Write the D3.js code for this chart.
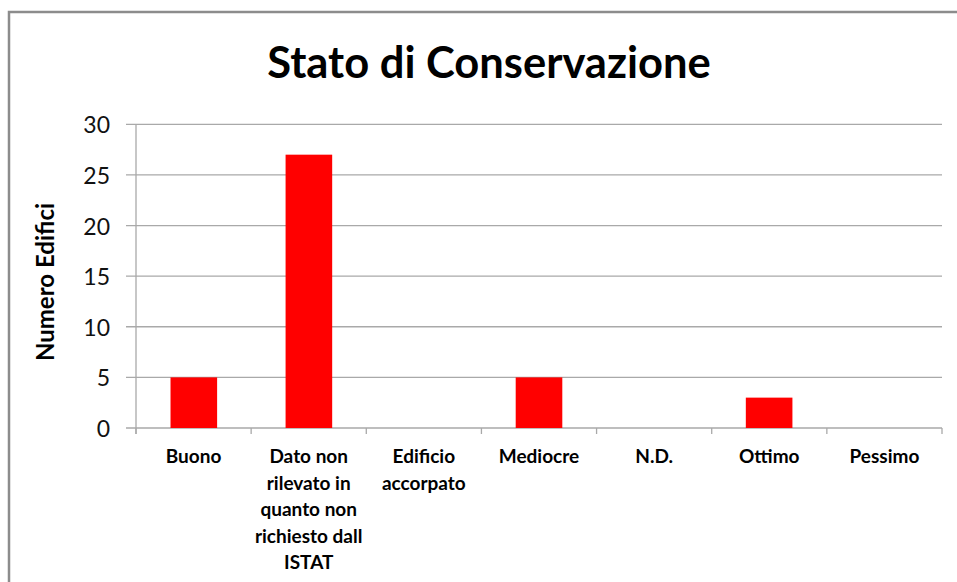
<!DOCTYPE html>
<html><head><meta charset="utf-8">
<script src="https://cdn.jsdelivr.net/npm/d3@7/dist/d3.min.js"></script>
<style>
html,body{margin:0;padding:0;background:#fff;}
svg{display:block;}
text{font-family:Lato,"Open Sans","Liberation Sans",sans-serif;}
</style></head>
<body>
<svg id="c" width="957" height="582"></svg>
<script>
const categories = ["Buono", "Dato non rilevato in quanto non richiesto dall ISTAT", "Edificio accorpato", "Mediocre", "N.D.", "Ottimo", "Pessimo"];
const categoryLines = [["Buono"], ["Dato non","rilevato in","quanto non","richiesto dall","ISTAT"], ["Edificio","accorpato"], ["Mediocre"], ["N.D."], ["Ottimo"], ["Pessimo"]];
const values = [5, 27, 0, 5, 0, 3, 0];
const yTicks = [0, 5, 10, 15, 20, 25, 30];
const title = "Stato di Conservazione";
const yTitle = "Numero Edifici";

const svg = d3.select("#c");
// outer border
svg.append("path").attr("d","M9,582 V12 H957").attr("fill","none").attr("stroke","#8c8c8c").attr("stroke-width",2.5);

const L = 136, R = 942, T = 124.3, B = 428;
const x = d3.scaleBand().domain(categories).range([L, R]).paddingInner(0.595).paddingOuter(0.3);
const y = d3.scaleLinear().domain([0, 30]).range([B, T]);

// gridlines
svg.append("g").selectAll("line").data(yTicks).join("line")
  .attr("x1", L - 10).attr("x2", R).attr("y1", d => y(d)).attr("y2", d => y(d))
  .attr("stroke", "#a9a9a9").attr("stroke-width", 1.3);
// y axis line
svg.append("line").attr("x1", L).attr("x2", L).attr("y1", T).attr("y2", B + 6).attr("stroke", "#a9a9a9").attr("stroke-width", 1.3);
// y tick labels
svg.append("g").selectAll("text").data(yTicks).join("text")
  .attr("x", 110).attr("y", d => y(d) + 1).attr("dy", "0.35em").attr("text-anchor", "end")
  .attr("font-size", 23).attr("fill", "#111").text(d => d);

// bars
svg.append("g").selectAll("rect").data(values).join("rect")
  .attr("x", (d, i) => x(categories[i])).attr("width", x.bandwidth())
  .attr("y", d => y(d)).attr("height", d => B - y(d))
  .attr("fill", "#ff0000");

// x axis bottom ticks at category boundaries
const step = (R - L) / categories.length;
svg.append("g").selectAll("line").data(d3.range(categories.length + 1)).join("line")
  .attr("x1", i => L + i * step).attr("x2", i => L + i * step).attr("y1", B).attr("y2", B + 6)
  .attr("stroke", "#a9a9a9").attr("stroke-width", 1.3);

// x labels
const xl = svg.append("g");
categories.forEach((c, i) => {
  const cx = L + (i + 0.5) * step;
  const t = xl.append("text").attr("x", cx).attr("y", 463).attr("text-anchor", "middle")
    .attr("font-size", 19).attr("font-weight", "bold").attr("fill", "#000");
  categoryLines[i].forEach((ln, j) => {
    t.append("tspan").attr("x", cx).attr("dy", j === 0 ? 0 : 26.5).text(ln);
  });
});

// title
svg.append("text").attr("x", 489).attr("y", 78).attr("text-anchor", "middle")
  .attr("font-size", 43.5).attr("font-weight", "bold").attr("fill", "#000").text(title);

// y title
svg.append("text").attr("transform", "translate(54,282) rotate(-90)").attr("text-anchor", "middle")
  .attr("font-size", 24).attr("font-weight", "bold").attr("fill", "#000").text(yTitle);
</script>
</body></html>
